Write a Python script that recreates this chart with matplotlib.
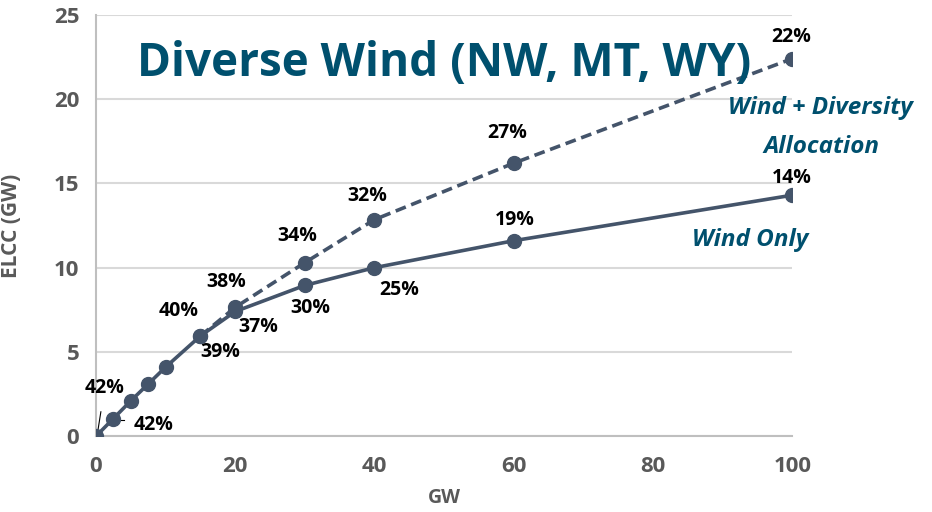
import matplotlib.pyplot as plt

# installed capacity (GW) and ELCC (GW)
gw_only = [0, 2.5, 5, 7.5, 10, 15, 20, 30, 40, 60, 100]
elcc_only = [0, 1.05, 2.1, 3.1, 4.1, 5.95, 7.4, 8.95, 10.0, 11.6, 14.3]

gw_div = [15, 20, 30, 40, 60, 100]
elcc_div = [5.95, 7.65, 10.3, 12.85, 16.2, 22.4]

# label text and where it sits (data coords)
pct_labels = ['42%', '42%', '40%', '39%', '38%', '37%', '34%', '30%',
              '32%', '25%', '27%', '19%', '22%', '14%']
pct_x = [1.2, 8.2, 11.9, 17.9, 18.7, 23.3, 28.9, 30.8, 38.9, 43.5, 59.0, 60.1, 99.9, 99.9]
pct_y = [2.85, 0.65, 7.45, 5.0, 9.15, 6.5, 11.85, 7.6, 14.25, 8.7, 18.0, 12.85, 23.7, 15.3]

line_col = '#44546A'
teal = '#00506E'
grey = '#595959'

fig = plt.figure(figsize=(9.32, 5.12), dpi=100)
ax = fig.add_axes([0.103, 0.148, 0.747, 0.823])

ax.plot(gw_div, elcc_div, color=line_col, lw=2.6, ls=(0, (3, 1.6)),
        marker='o', ms=10, zorder=3)
ax.plot(gw_only, elcc_only, color=line_col, lw=2.6, marker='o', ms=10, zorder=4)

ax.set_xlim(0, 100)
ax.set_ylim(0, 25)
ax.set_xticks([0, 20, 40, 60, 80, 100])
ax.set_yticks([0, 5, 10, 15, 20, 25])
ax.grid(axis='y', color='#D9D9D9', lw=1.5)
ax.set_axisbelow(True)
for s in ['top', 'right']:
    ax.spines[s].set_visible(False)
ax.spines['left'].set_color('#BFBFBF')
ax.spines['bottom'].set_color('#BFBFBF')
ax.spines['left'].set_linewidth(1.5)
ax.spines['bottom'].set_linewidth(1.5)
ax.tick_params(length=0, labelsize=16, labelcolor=grey)
ax.tick_params(axis='x', pad=14)
ax.tick_params(axis='y', pad=12)
for t in ax.get_xticklabels() + ax.get_yticklabels():
    t.set_fontweight('bold')
    t.set_family('Open Sans')

ax.set_xlabel('GW', color=grey, fontsize=14, fontweight='bold', family='Open Sans', va='center')
ax.set_ylabel('ELCC (GW)', color=grey, fontsize=15, fontweight='bold', family='Open Sans')
ax.xaxis.set_label_coords(0.5, -0.147)
ax.yaxis.set_label_coords(-0.106, 0.5)

for txt, x, y in zip(pct_labels, pct_x, pct_y):
    ax.text(x, y, txt, ha='center', va='center', fontsize=14, fontweight='bold',
            family='Open Sans', color='black', clip_on=False)

# leader lines for the two 42% labels
ax.plot([0.7, 0.2], [1.45, 0.15], color='black', lw=0.8)
ax.plot([2.7, 4.0], [0.95, 0.95], color='black', lw=0.8)

ax.text(0.5, 0.885, 'Diverse Wind (NW, MT, WY)', transform=ax.transAxes, ha='center',
        va='center', fontsize=33, fontweight='bold', family='Open Sans', color=teal)
ax.text(104, 19.5, 'Wind + Diversity', ha='center', va='center', fontsize=17.5,
        fontweight='bold', style='italic', family='Open Sans', color=teal, clip_on=False)
ax.text(104.2, 17.15, 'Allocation', ha='center', va='center', fontsize=17.5,
        fontweight='bold', style='italic', family='Open Sans', color=teal, clip_on=False)
ax.text(94, 11.65, 'Wind Only', ha='center', va='center', fontsize=17.5,
        fontweight='bold', style='italic', family='Open Sans', color=teal, clip_on=False)

fig.savefig('out.png', dpi=100)
